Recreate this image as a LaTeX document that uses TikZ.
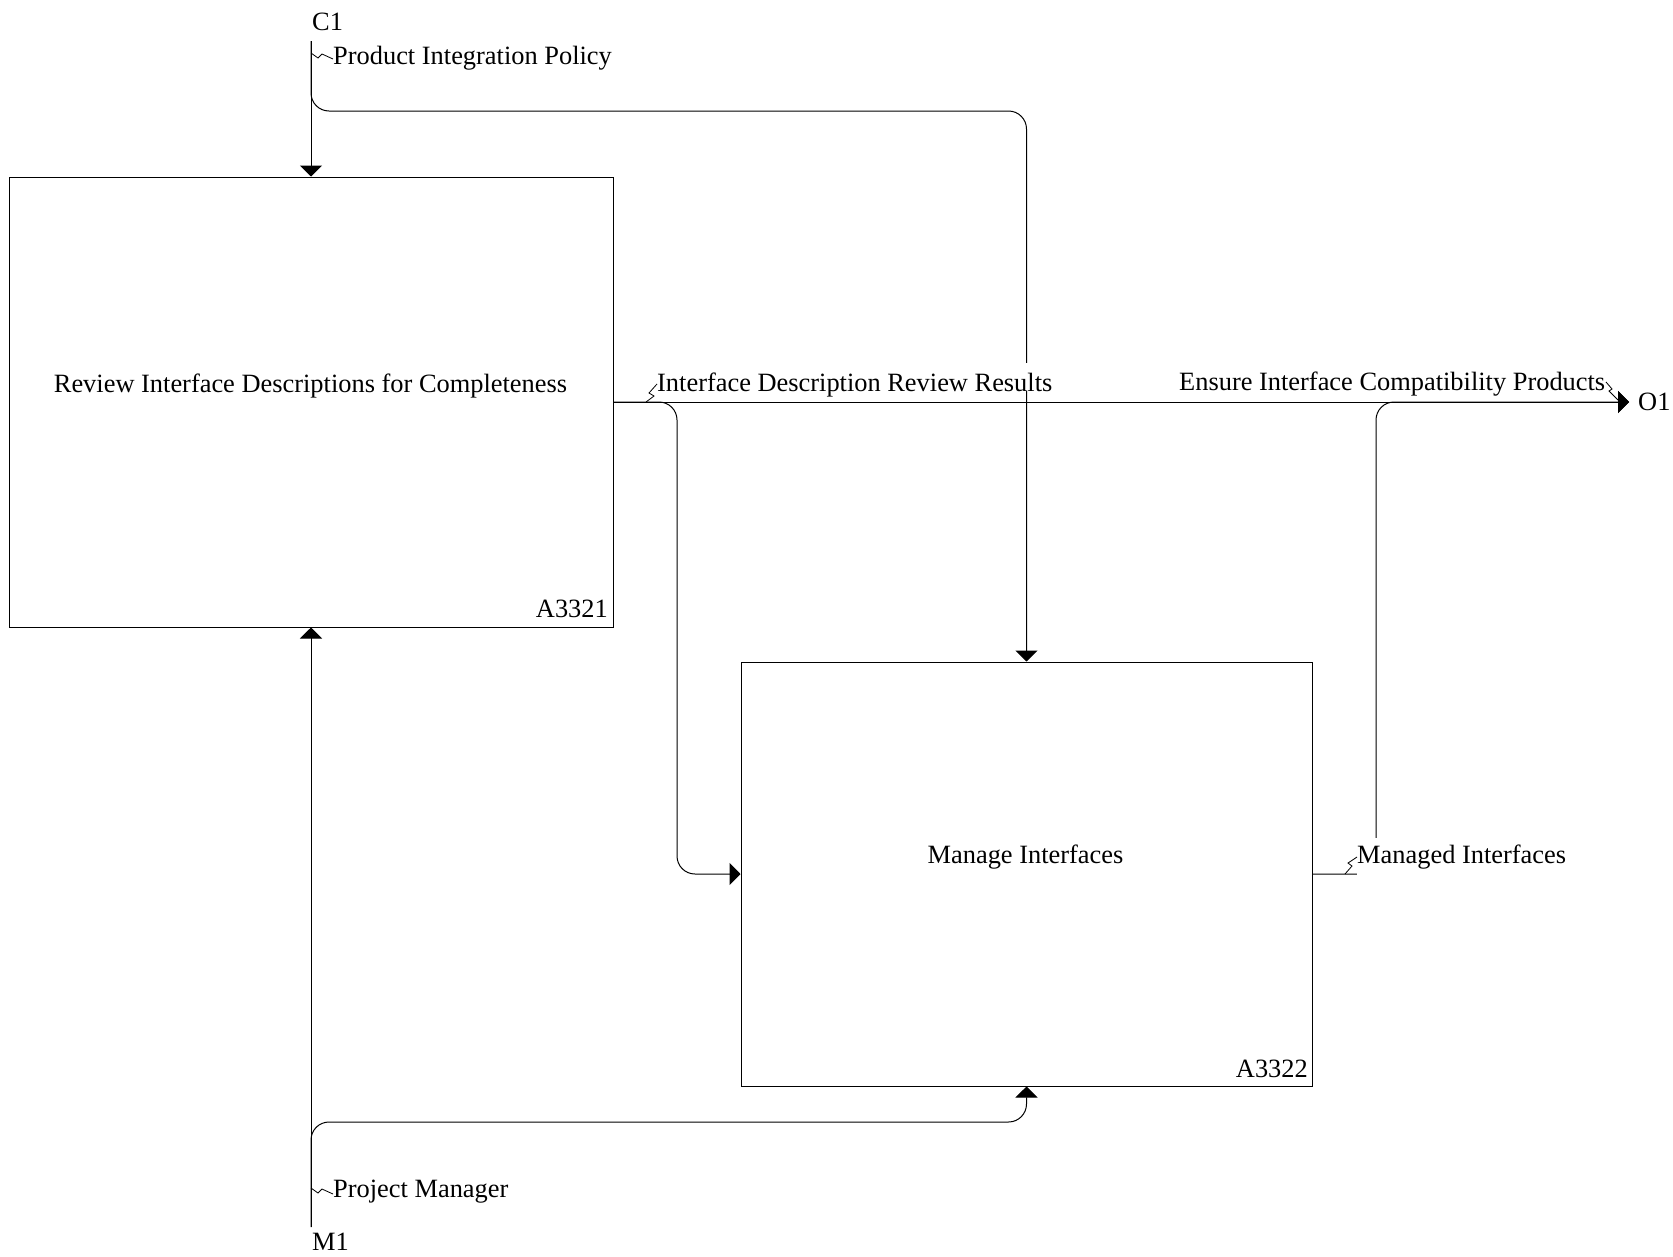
\documentclass[tikz,border=0pt]{standalone}
\usepackage{fontspec}
\setmainfont{Liberation Serif}
\usetikzlibrary{arrows.meta,calc}
\begin{document}
\begin{tikzpicture}[x=1pt,y=-1pt,
  every node/.style={font=\fontsize{26.4}{30}\selectfont},
  actbox/.style={draw, line width=1pt, inner sep=0pt},
  conn/.style={line width=1pt, rounded corners=18pt},
  arr/.style={conn, -{Triangle[length=11pt,width=22pt]}},
  squig/.style={line width=0.8pt},
  lbl/.style={inner sep=0pt, anchor=base west},
  lblbg/.style={lbl, fill=white, inner ysep=6pt}
]
\useasboundingbox (0,0) rectangle (1673,1256);
% boxes
\node[actbox, minimum width=604pt, minimum height=450pt] (b1) at (311,402) {};
\node[actbox, minimum width=571pt, minimum height=424pt] (b2) at (1026.5,874) {};
\node[inner sep=0pt, anchor=base] (t1) at (310.5,392) {Review Interface Descriptions for Completeness};
\node[inner sep=0pt, anchor=base] (t2) at (1025.5,863) {Manage Interfaces};
\node[inner sep=0pt, anchor=base east] (n1) at (608,617) {A3321};
\node[inner sep=0pt, anchor=base east] (n2) at (1308,1077) {A3322};
% boundary coordinates
\coordinate (c1) at (311,41);
\coordinate (m1) at (311,1227);
\coordinate (o1) at (1629,402);
% control C1
\draw[arr] (c1) -- (b1.north);
\draw[arr] (c1) -- (311,111) -- (1026.5,111) -- (b2.north);
% mechanism M1
\draw[arr] (m1) -- (b1.south);
\draw[arr] (m1) -- (311,1122) -- (1026.5,1122) -- (b2.south);
% boundary labels
\node[lbl] (lc1) at (312,30) {C1};
\node[lbl] (lm1) at (312,1250) {M1};
\node[lbl] (lo1) at (1638,410) {O1};
% labels on arrows
\node[lbl] (lpip) at (333,64) {Product Integration Policy};
\draw[squig] (311,53) -- (318,58) -- (322,54) -- (333,59);
\node[lbl] (lpm) at (333,1197) {Project Manager};
\draw[squig] (311,1188) -- (318,1193) -- (322,1189) -- (333,1194);
\node[lblbg, inner ysep=0pt, text depth=0pt, text height=28pt] (lidrr) at (657,391) {Interface Description Review Results};
\node[lbl] (leic) at (1179,390) {Ensure Interface Compatibility Products};
\draw[squig] (1606,382) -- (1612,389) -- (1609,391) -- (1618,400);
% output of A3321
\draw[arr] (b1.east) -- (o1);
\draw[arr] (b1.east) -- (677,402) -- (677,874) -- (b2.west);
\draw[squig] (646,402) -- (654,396) -- (649,393) -- (657,384);
% output of A3322
\draw[arr] (b2.east) -- (1376,874) -- (1376,402) -- (o1);
\node[lblbg] (lmi) at (1357,863) {Managed Interfaces};
\draw[squig] (1345,874) -- (1352,866) -- (1348,863) -- (1357,857);
\end{tikzpicture}
\end{document}
